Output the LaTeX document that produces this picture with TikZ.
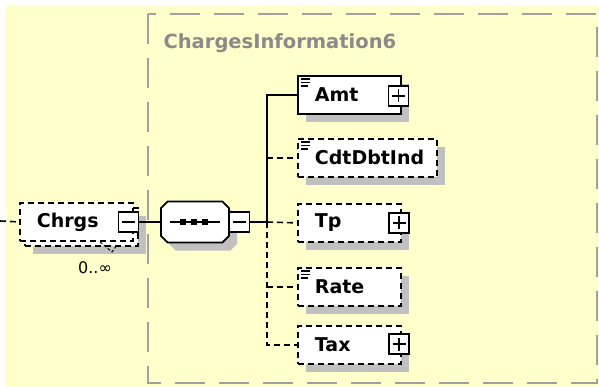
\documentclass[tikz,border=0pt]{standalone}
\usepackage{fontspec}
\setmainfont{DejaVu Sans}
\usetikzlibrary{shapes.misc,shadows}
\definecolor{bgyellow}{HTML}{FFFFCC}
\definecolor{shadowgray}{HTML}{C0C0C0}
\definecolor{framegray}{HTML}{A0A0A0}
\definecolor{titlegray}{HTML}{8A8A8A}
\newcommand\boxfont{\fontsize{19}{22}\selectfont\bfseries}
% three-line mark for simple content
\newcommand\ssicon[1]{%
  \foreach \dy/\w in {4/9,7.5/9,11/7}
    \draw[line width=1.2pt] ([shift={(4pt,-\dy pt)}]#1.north west) -- ++(\w pt,0);}
\tikzset{
  elem/.style={draw, line width=1.8pt, fill=white, anchor=north west,
    inner xsep=17pt, inner ysep=0pt, align=left, font=\boxfont, minimum height=38pt},
  shadowed/.style={drop shadow={shadow xshift=8pt, shadow yshift=-8pt,
    fill=shadowgray, opacity=1}},
  optional/.style={dash pattern=on 6pt off 4pt},
  btn/.style={draw, line width=1.6pt, fill=white, minimum size=20pt, inner sep=0pt},
  minusbtn/.style={btn, path picture={
    \draw[line width=1.4pt] ([xshift=3.5pt]path picture bounding box.west)
      -- ([xshift=-3.5pt]path picture bounding box.east);}},
  plusbtn/.style={btn, path picture={
    \draw[line width=1.4pt] ([xshift=3.5pt]path picture bounding box.west)
      -- ([xshift=-3.5pt]path picture bounding box.east)
      ([yshift=-3.5pt]path picture bounding box.north)
      -- ([yshift=3.5pt]path picture bounding box.south);}},
  conn/.style={line width=1.6pt},
}
\begin{document}
\begin{tikzpicture}[x=1pt, y=-1pt]
  \useasboundingbox (0,0) rectangle (599,387);
  \fill[white] (0,0) rectangle (599,387);
  \fill[bgyellow] (6,5) rectangle (599,387);
  % complex type frame
  \draw[framegray, line width=2pt, dash pattern=on 30pt off 14pt] (148,14) rectangle (597,383);
  \node[anchor=west, text=titlegray, font=\fontsize{19.5}{22}\selectfont\bfseries] (ctitle) at (160,43) {ChargesInformation6};

  % repeated element Chrgs
  \node[elem, optional, shadowed, text width=79pt] (chrgsback) at (24,207) {};
  \node[elem, optional, text width=79pt] (chrgs) at (19,202) {Chrgs};
  \node[minusbtn] (chrgspm) at (128.5,222) {};
  \draw[line width=1pt, dash pattern=on 3pt off 2pt] (100,242) -- (112,252) -- (117,245);
  \node[font=\fontsize{16}{18}\selectfont] (chrgsocc) at (95,268) {0..∞};

  % sequence
  \node[draw, line width=1.8pt, fill=white, chamfered rectangle, chamfered rectangle xsep=8pt,
    minimum width=68pt, minimum height=41pt, shadowed] (seq) at (195,222) {};
  \draw[line width=1.4pt] ([xshift=-25pt]seq.center) -- ([xshift=25pt]seq.center);
  \foreach \d in {-12,-1,10}
    \fill ([xshift=\d pt]seq.center) +(-3,-3) rectangle +(3,3);
  \node[minusbtn] (seqpm) at (239.5,222) {};
  \coordinate (trunk) at (267,222);

  % children
  \node[elem, shadowed, text width=69pt] (amt) at (297,75) {Amt};
  \node[elem, optional, shadowed, text width=105pt] (cdt) at (297,138) {CdtDbtInd};
  \node[elem, optional, shadowed, text width=69pt] (tp) at (297,203) {Tp};
  \node[elem, optional, shadowed, text width=69pt] (rate) at (297,267) {Rate};
  \node[elem, optional, shadowed, text width=69pt] (tax) at (297,325) {Tax};
  \ssicon{amt} \ssicon{cdt} \ssicon{rate}
  \node[plusbtn] (amtpm) at (398.5,96) {};
  \node[plusbtn] (tppm) at (399,223) {};
  \node[plusbtn] (taxpm) at (399,344) {};

  % connectors
  \coordinate (chrgsin) at (0,221);
  \draw[conn, optional] (chrgsin) -- (chrgs.west);
  \draw[conn] (chrgspm.east) -- (seq.west);
  \draw[conn] (seqpm.east) -- (trunk);
  \draw[conn] (amt.west) -| (trunk);
  \draw[conn, optional] (trunk) |- (tax.west);
  \draw[conn, optional] (trunk) -- (tp.west);
  \draw[conn, optional] (cdt.west -| trunk) -- (cdt.west);
  \draw[conn, optional] (rate.west -| trunk) -- (rate.west);
\end{tikzpicture}
\end{document}
